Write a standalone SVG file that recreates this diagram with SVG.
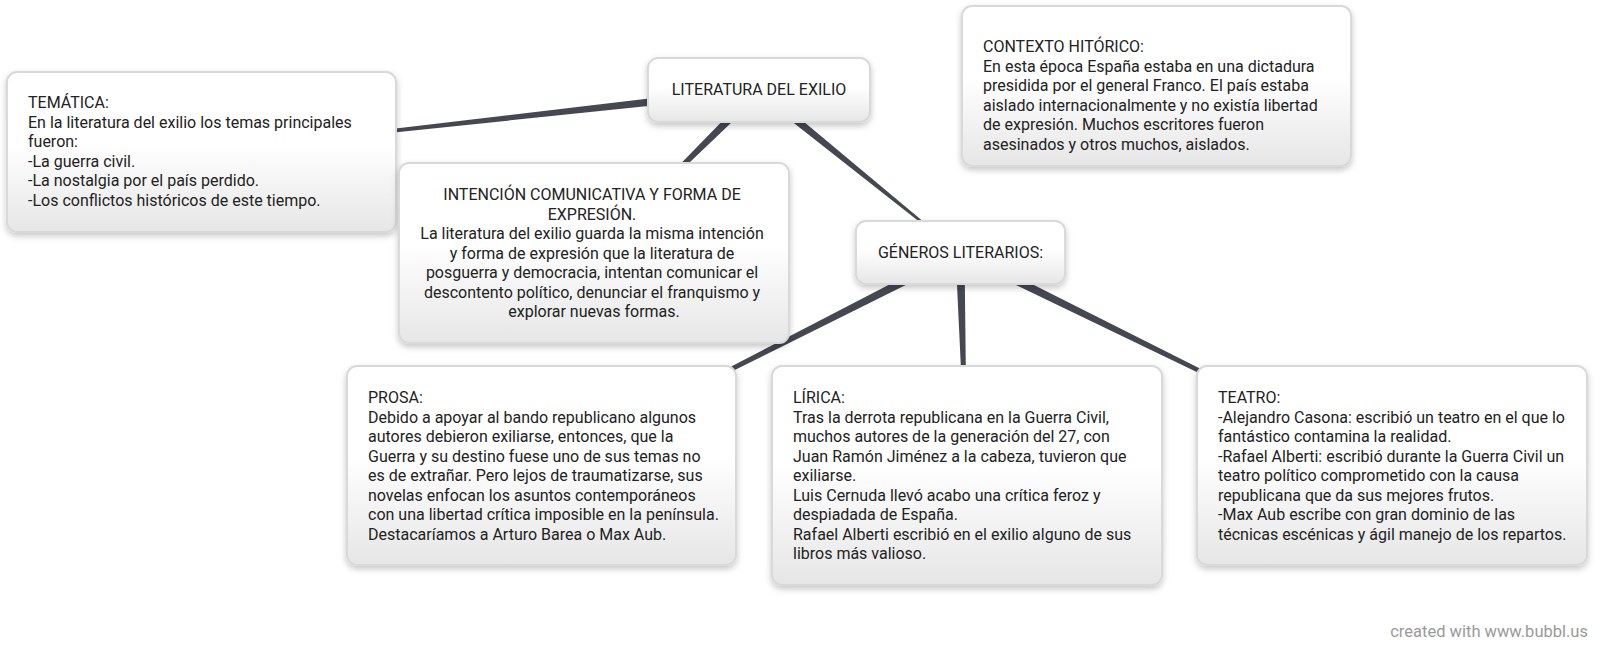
<svg xmlns="http://www.w3.org/2000/svg" width="1600" height="653" viewBox="0 0 1600 653">
  <defs>
    <linearGradient id="boxFill" x1="0" y1="0" x2="0" y2="1">
      <stop offset="0" stop-color="#ffffff"/>
      <stop offset="0.45" stop-color="#ffffff"/>
      <stop offset="1" stop-color="#e6e6e6"/>
    </linearGradient>
    <filter id="shadow" x="-10%" y="-10%" width="120%" height="130%">
      <feDropShadow dx="0" dy="3" stdDeviation="3" flood-color="#000000" flood-opacity="0.22"/>
    </filter>
  </defs>
  <style>
    .box { fill: url(#boxFill); stroke: #d9d9d9; stroke-width: 2; filter: url(#shadow); }
    .txt { font-family: Roboto, "Liberation Sans", Arial, sans-serif; font-size: 16px; fill: #222222; }
    .mid { text-anchor: middle; }
    .conn { fill: #454751; }
    .credit { font-family: Roboto, "Liberation Sans", Arial, sans-serif; font-size: 16.5px; fill: #9a9a9a; text-anchor: end; }
  </style>
  <rect width="1600" height="653" fill="#ffffff"/>

  <g id="connectors">
    <polygon class="conn" points="758.5,85.53 200.94,151.5 201.06,152.5 759.5,94.47"/>
    <polygon class="conn" points="755.84,86.8 593.65,252.64 594.35,253.36 762.16,93.2"/>
    <polygon class="conn" points="756.17,93.5 959.69,253.39 960.31,252.61 761.83,86.5"/>
    <polygon class="conn" points="957.96,248.99 541.27,465.05 541.73,465.95 962.04,257.01"/>
    <polygon class="conn" points="955.5,253.13 966,475.52 967,475.49 964.5,252.87"/>
    <polygon class="conn" points="958.01,257.04 1391.78,465.95 1392.22,465.05 961.99,248.96"/>
  </g>

  <g id="node-tematica">
    <rect class="box" x="7" y="72" width="389" height="160" rx="10"/>
    <text class="txt" x="28" y="108">
      <tspan x="28">TEMÁTICA:</tspan>
      <tspan x="28" dy="19.5">En la literatura del exilio los temas principales</tspan>
      <tspan x="28" dy="19.5">fueron:</tspan>
      <tspan x="28" dy="19.5">-La guerra civil.</tspan>
      <tspan x="28" dy="19.5">-La nostalgia por el país perdido.</tspan>
      <tspan x="28" dy="19.5">-Los conflictos históricos de este tiempo.</tspan>
    </text>
  </g>

  <g id="node-contexto">
    <rect class="box" x="962" y="6" width="389" height="160" rx="10"/>
    <text class="txt" x="983" y="52">
      <tspan x="983">CONTEXTO HITÓRICO:</tspan>
      <tspan x="983" dy="19.5">En esta época España estaba en una dictadura</tspan>
      <tspan x="983" dy="19.5">presidida por el general Franco. El país estaba</tspan>
      <tspan x="983" dy="19.5">aislado internacionalmente y no existía libertad</tspan>
      <tspan x="983" dy="19.5">de expresión. Muchos escritores fueron</tspan>
      <tspan x="983" dy="19.5">asesinados y otros muchos, aislados.</tspan>
    </text>
  </g>

  <g id="node-literatura">
    <rect class="box" x="648" y="58" width="222" height="64" rx="10"/>
    <text class="txt mid" x="759" y="95">LITERATURA DEL EXILIO</text>
  </g>

  <g id="node-intencion">
    <rect class="box" x="399" y="163" width="390" height="180" rx="10"/>
    <text class="txt mid" x="594" y="200">
      <tspan x="594">INTENCIÓN COMUNICATIVA Y FORMA DE</tspan>
      <tspan x="594" dy="19.5">EXPRESIÓN.</tspan>
      <tspan x="594" dy="19.5">La literatura del exilio guarda la misma intención</tspan>
      <tspan x="594" dy="19.5">y forma de expresión que la literatura de</tspan>
      <tspan x="594" dy="19.5">posguerra y democracia, intentan comunicar el</tspan>
      <tspan x="594" dy="19.5">descontento político, denunciar el franquismo y</tspan>
      <tspan x="594" dy="19.5">explorar nuevas formas.</tspan>
    </text>
  </g>

  <g id="node-generos">
    <rect class="box" x="856" y="221" width="209" height="63" rx="10"/>
    <text class="txt mid" x="960.5" y="258">GÉNEROS LITERARIOS:</text>
  </g>

  <g id="node-prosa">
    <rect class="box" x="347" y="366" width="389" height="199" rx="10"/>
    <text class="txt" x="368" y="403">
      <tspan x="368">PROSA:</tspan>
      <tspan x="368" dy="19.5">Debido a apoyar al bando republicano algunos</tspan>
      <tspan x="368" dy="19.5">autores debieron exiliarse, entonces, que la</tspan>
      <tspan x="368" dy="19.5">Guerra y su destino fuese uno de sus temas no</tspan>
      <tspan x="368" dy="19.5">es de extrañar. Pero lejos de traumatizarse, sus</tspan>
      <tspan x="368" dy="19.5">novelas enfocan los asuntos contemporáneos</tspan>
      <tspan x="368" dy="19.5">con una libertad crítica imposible en la península.</tspan>
      <tspan x="368" dy="19.5">Destacaríamos a Arturo Barea o Max Aub.</tspan>
    </text>
  </g>

  <g id="node-lirica">
    <rect class="box" x="772" y="366" width="390" height="219" rx="10"/>
    <text class="txt" x="793" y="403">
      <tspan x="793">LÍRICA:</tspan>
      <tspan x="793" dy="19.5">Tras la derrota republicana en la Guerra Civil,</tspan>
      <tspan x="793" dy="19.5">muchos autores de la generación del 27, con</tspan>
      <tspan x="793" dy="19.5">Juan Ramón Jiménez a la cabeza, tuvieron que</tspan>
      <tspan x="793" dy="19.5">exiliarse.</tspan>
      <tspan x="793" dy="19.5">Luis Cernuda llevó acabo una crítica feroz y</tspan>
      <tspan x="793" dy="19.5">despiadada de España.</tspan>
      <tspan x="793" dy="19.5">Rafael Alberti escribió en el exilio alguno de sus</tspan>
      <tspan x="793" dy="19.5">libros más valioso.</tspan>
    </text>
  </g>

  <g id="node-teatro">
    <rect class="box" x="1197" y="366" width="390" height="199" rx="10"/>
    <text class="txt" x="1218" y="403">
      <tspan x="1218">TEATRO:</tspan>
      <tspan x="1218" dy="19.5">-Alejandro Casona: escribió un teatro en el que lo</tspan>
      <tspan x="1218" dy="19.5">fantástico contamina la realidad.</tspan>
      <tspan x="1218" dy="19.5">-Rafael Alberti: escribió durante la Guerra Civil un</tspan>
      <tspan x="1218" dy="19.5">teatro político comprometido con la causa</tspan>
      <tspan x="1218" dy="19.5">republicana que da sus mejores frutos.</tspan>
      <tspan x="1218" dy="19.5">-Max Aub escribe con gran dominio de las</tspan>
      <tspan x="1218" dy="19.5">técnicas escénicas y ágil manejo de los repartos.</tspan>
    </text>
  </g>

  <text class="credit" x="1588" y="637">created with www.bubbl.us</text>
</svg>
